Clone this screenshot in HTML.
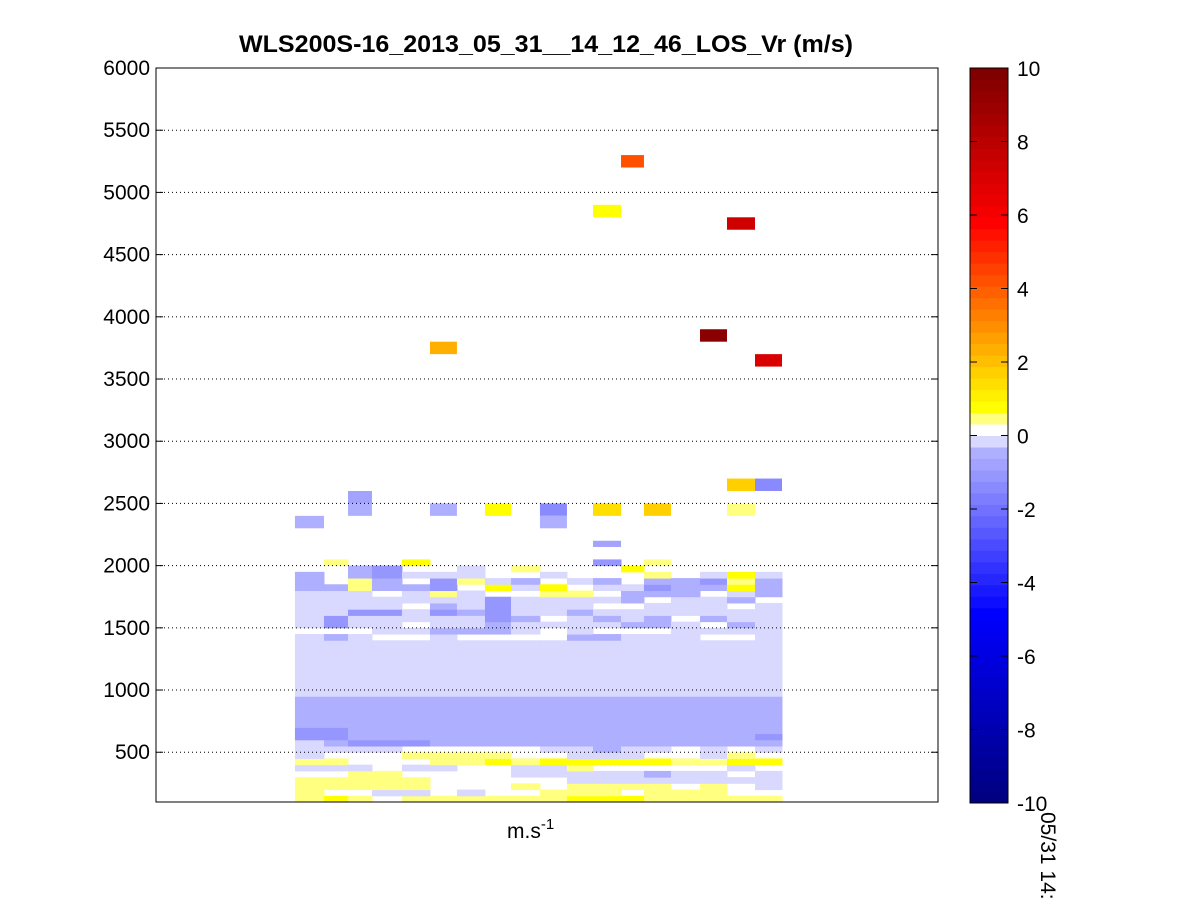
<!DOCTYPE html>
<html><head><meta charset="utf-8"><style>
body{margin:0;background:#fff;}
svg text{font-family:"Liberation Sans",Arial,sans-serif;}
</style></head><body>
<svg id="chart" width="1201" height="901" xmlns="http://www.w3.org/2000/svg">
<rect width="1201" height="901" fill="#fff"/>
<g id="cells"></g>
<g id="grid"></g>
<rect x="156" y="68" width="782" height="734" fill="none" stroke="#000" stroke-width="1"/>
<g id="yaxis"></g>
<text x="546" y="52" text-anchor="middle" font-size="24" font-weight="bold" textLength="614" lengthAdjust="spacingAndGlyphs">WLS200S-16_2013_05_31__14_12_46_LOS_Vr (m/s)</text>
<text x="507" y="838" font-size="21">m.s<tspan dy="-9" font-size="15">-1</tspan></text>
<g id="cbar"></g>
<text transform="translate(1041,812) rotate(90)" font-size="21">05/31 14:</text>
</svg>
<script>
// time bin edges (minutes) for the profile columns
const timeEdges=[10.66,12.89,14.73,16.57,18.87,21.02,23.09,25.24,27.24,29.46,31.53,33.53,35.68,37.44,39.51,41.74,43.81,45.96,48.03];
// gate heights (m), 50 m gates starting at 100
const gateStart=100, gateSize=50;
// value codes
const codeValues={'.':null,'a':-0.2,'b':-0.5,'c':-1.0,'y':0.5,'Y':0.8,'g':1.5};
// per-column profiles (bottom to top, gates 100..2050)
const profiles=[
"yyyy.ayaaa"+"ccbbbbb"+"aaaaaaaaa"+"a.aaaaaabbb..",
"Y.yy.ay.ab"+"ccbbbbb"+"aaaaaaaaa"+"b.ccaaaab...y",
"y.yyya..ac"+"bbbbbbb"+"aaaaaaaaa"+"a.aacaaayybb.",
".ayyy...ac"+"bbbbbbb"+"aaaaaaaaa"+".aaacaa.bbcc.",
"yayy.a.y.c"+"bbbbbbb"+"aaaaaaaaa"+".a.aa.aab.a.Y",
"y....ayy.b"+"bbbbbbb"+"aaaaaaaaa"+"abaacbaycca..",
"ya....yy.b"+"bbbbbbb"+"aaaaaaaaa"+".baabaaa.yaa.",
"y.....Yy.b"+"bbbbbbb"+"aaaaaaaaa"+".bbcccc.Ya...",
"y.y.aay..b"+"bbbbbbb"+"aaaaaaaaa"+".aabaaa.ab.y.",
"yy..aaY.ab"+"bbbbbbb"+"aaaaaaaaa"+"..a.aaayY.a..",
"YyyaayYaab"+"bbbbbbb"+"aaaaaaaaa"+"baaabaay.a...",
"Yyyaa.Yabb"+"bbbbbbb"+"aaaaaaaaa"+"b.aba.a.ab..c",
"Y.yaa.Yaab"+"bbbbbbb"+"aaaaaaaaa"+"a.baa.bba..Y.",
"yyyab.Y.ab"+"bbbbbbb"+"aaaaaaaaa"+"a.bbaa.bcby.y",
"yy.aa.y..b"+"bbbbbbb"+"aaaaaaaaa"+"aaa.aaabbb...",
"yyyaa.yaab"+"bbbbbbb"+"aaaaaaaaa"+".a.baaa.bca..",
"y..a.aYy.b"+"bbbbbbb"+"aaaaaaaaa"+".abaa.baYyY..",
"y.aaa.Y.ab"+"cbbbbbb"+"aaaaaaaaa"+"aaaaaa.bbba.."
];
// isolated high-altitude returns
const sparseCol=[0,2,2,5,5,7,9,9,11,11,11,12,13,15,16,16,16,17,17];
const sparseH0 =[2300,2400,2500,3700,2400,2400,2400,2300,4800,2400,2150,5200,2400,3800,4700,2600,2400,3600,2600];
const sparseH1 =[2400,2500,2600,3800,2500,2500,2500,2400,4900,2500,2200,5300,2500,3900,4800,2700,2500,3700,2700];
const sparseV  =[-0.5,-0.5,-0.8,2.4,-0.5,0.8,-1.4,-0.5,0.8,1.5,-0.8,4.3,1.8,9.6,7.4,1.8,0.5,7.0,-1.4];
const yTicks=[500,1000,1500,2000,2500,3000,3500,4000,4500,5000,5500,6000];
const cTicks=[-10,-8,-6,-4,-2,0,2,4,6,8,10];

const X0=156,X1=938,Y0=802,Y1=68;
const xs=t=>X0+(t-0)/(60-0)*(X1-X0);
const ys=h=>Y0-(h-100)/(6000-100)*(Y0-Y1);
const NS='http://www.w3.org/2000/svg';
function mk(tag,at,parent){const e=document.createElementNS(NS,tag);for(const k in at)e.setAttribute(k,at[k]);parent.appendChild(e);return e;}
const BW=20/64;
function color(v){
  let r,g,b;
  if(v<0){
    const k=Math.min(32,Math.max(1,Math.ceil(-v/BW-1e-9)));
    if(k===1){r=g=217;b=255;}
    else if(k<=16){r=g=Math.round(175*(16-k)/14);b=255;}
    else{r=g=0;b=Math.round(255-127*(k-16)/16);}
  }else{
    const k=Math.min(32,Math.max(1,Math.ceil(v/BW+1e-9)));
    if(k===1){r=g=b=255;}
    else if(k===2){r=g=255;b=128;}
    else if(k<=19){r=255;g=Math.round(255*(1-(k-3)/16));b=0;}
    else{r=Math.round(255-127*(k-19)/13);g=0;b=0;}
  }
  return `rgb(${r},${g},${b})`;
}
const cells=document.getElementById('cells');
profiles.forEach((p,ci)=>{
  for(let k=0;k<p.length;k++){
    const v=codeValues[p[k]]; if(v===null||v===undefined) continue;
    const h0=gateStart+k*gateSize,h1=h0+gateSize;
    const x0=xs(timeEdges[ci]),x1=xs(timeEdges[ci+1]);
    const r=mk('rect',{x:x0,y:ys(h1),width:x1-x0+0.5,height:ys(h0)-ys(h1)+0.5,fill:color(v)},cells);
    
    
  }
});
sparseV.forEach((v,i)=>{
  const ci=sparseCol[i];
  const x0=xs(timeEdges[ci]),x1=xs(timeEdges[ci+1]);
  const r=mk('rect',{x:x0,y:ys(sparseH1[i]),width:x1-x0,height:ys(sparseH0[i])-ys(sparseH1[i]),fill:color(v)},cells);
  
  
});
const grid=document.getElementById('grid'),yax=document.getElementById('yaxis');
yTicks.forEach(t=>{
  const y=ys(t);
  if(t<6000){const l=mk('line',{x1:X0,x2:X1,y1:y,y2:y,stroke:'#000','stroke-width':1,'stroke-dasharray':'1,3'},grid);
  
  }
  mk('line',{x1:X0,x2:X0+7,y1:y,y2:y,stroke:'#000'},yax);
  mk('line',{x1:X1-7,x2:X1,y1:y,y2:y,stroke:'#000'},yax);
  const tx=mk('text',{x:150,y:y+7,'text-anchor':'end','font-size':21},yax);
  tx.textContent=t;
  
  
});
const cb=document.getElementById('cbar');
const CX0=970,CX1=1008,CY0=803,CY1=68;
for(let i=0;i<64;i++){
  const v=-10+(i+0.5)*BW;
  const ya=CY0-(i+1)*(CY0-CY1)/64, yb=CY0-i*(CY0-CY1)/64;
  const r=mk('rect',{x:CX0,y:ya,width:CX1-CX0,height:yb-ya+0.5,fill:color(v)},cb);
  
  
}
mk('rect',{x:CX0,y:CY1,width:CX1-CX0,height:CY0-CY1,fill:'none',stroke:'#000'},cb);
cTicks.forEach(t=>{
  const y=CY0-(t+10)/20*(CY0-CY1);
  mk('line',{x1:CX0,x2:CX0+7,y1:y,y2:y,stroke:'#000'},cb);
  mk('line',{x1:CX1-7,x2:CX1,y1:y,y2:y,stroke:'#000'},cb);
  const tx=mk('text',{x:1017,y:y+8,'font-size':21},cb);
  tx.textContent=t;
  
  
});
</script>
</body></html>
